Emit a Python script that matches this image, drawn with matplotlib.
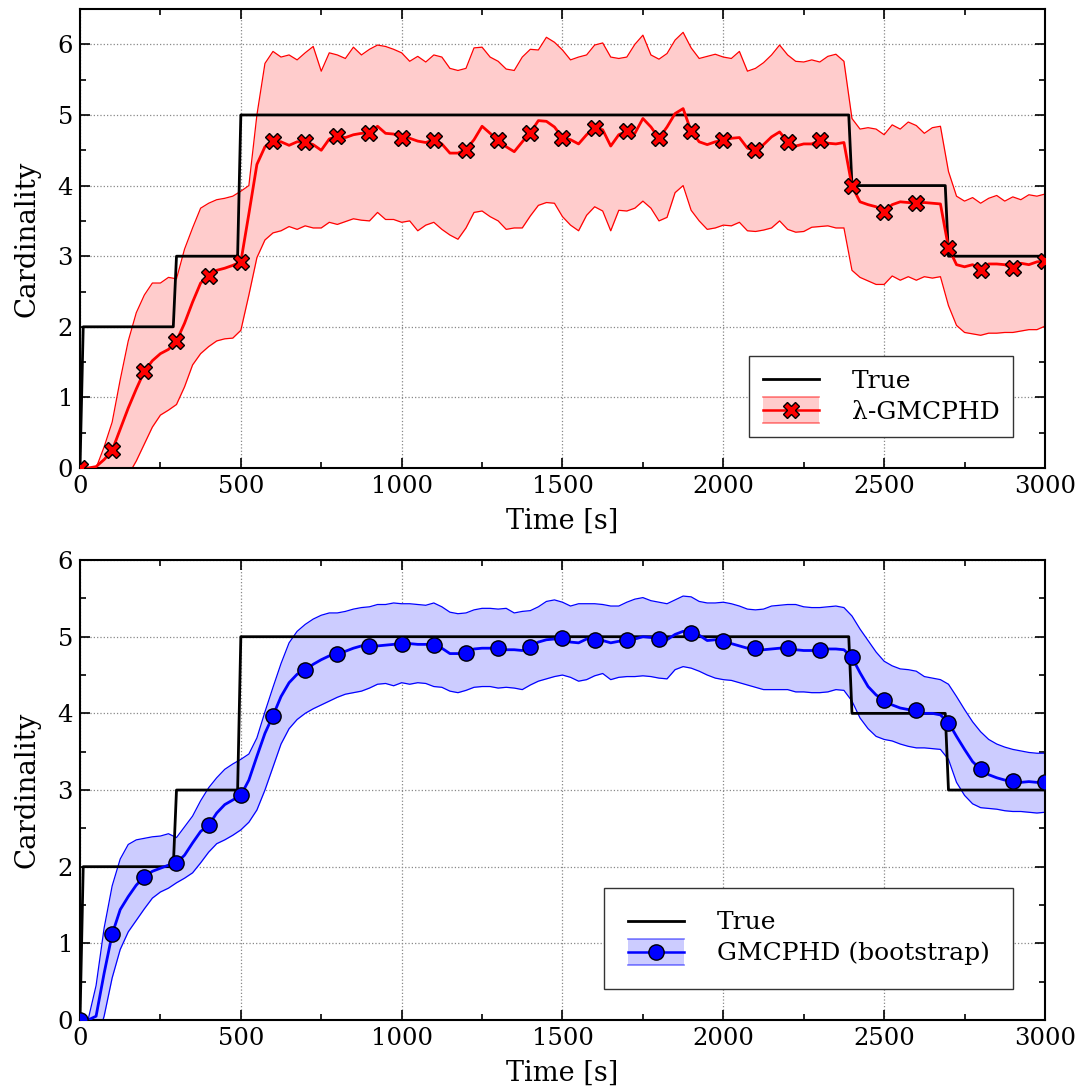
import numpy as np
import matplotlib
matplotlib.use("Agg")
import matplotlib.pyplot as plt
from matplotlib.lines import Line2D
from matplotlib.patches import Rectangle
from matplotlib.legend_handler import HandlerBase
from matplotlib.ticker import MultipleLocator

plt.rcParams['font.family'] = ['DejaVu Serif']

# time grid of the estimates (25 s), markers every 100 s
t_est = np.arange(0, 3001, 25)

# true number of targets
t_true = [0, 10, 290, 300, 490, 500, 2390, 2400, 2690, 2700, 3000]
n_true = [0, 2, 2, 3, 3, 5, 5, 4, 4, 3, 3]

# lambda-GMCPHD: mean and band
lam_mean = [
    0.00, 0.00, 0.02, 0.12, 0.25, 0.55, 0.85, 1.12,
    1.37, 1.52, 1.62, 1.68, 1.80, 2.05, 2.35, 2.62,
    2.72, 2.80, 2.83, 2.87, 2.92, 3.60, 4.30, 4.55,
    4.63, 4.62, 4.57, 4.62, 4.62, 4.58, 4.50, 4.66,
    4.70, 4.68, 4.72, 4.74, 4.75, 4.84, 4.74, 4.73,
    4.68, 4.67, 4.63, 4.61, 4.65, 4.59, 4.46, 4.46,
    4.51, 4.65, 4.84, 4.74, 4.64, 4.55, 4.48, 4.62,
    4.75, 4.92, 4.91, 4.83, 4.68, 4.65, 4.59, 4.72,
    4.82, 4.79, 4.56, 4.72, 4.77, 4.74, 4.95, 4.83,
    4.67, 4.83, 5.02, 5.09, 4.77, 4.62, 4.58, 4.62,
    4.64, 4.67, 4.68, 4.53, 4.50, 4.58, 4.69, 4.76,
    4.62, 4.56, 4.59, 4.59, 4.64, 4.60, 4.59, 4.61,
    3.99, 3.77, 3.73, 3.70, 3.63, 3.73, 3.77, 3.76,
    3.75, 3.76, 3.75, 3.74, 3.12, 2.88, 2.85, 2.88,
    2.81, 2.89, 2.89, 2.88, 2.83, 2.90, 2.88, 2.92,
    2.93]
lam_upper = [
    0.00, 0.00, 0.00, 0.30, 0.65, 1.25, 1.80, 2.20,
    2.45, 2.62, 2.62, 2.70, 2.68, 3.10, 3.40, 3.68,
    3.75, 3.80, 3.82, 3.85, 3.92, 4.00, 5.00, 5.73,
    5.90, 5.82, 5.85, 5.78, 5.88, 5.97, 5.62, 5.88,
    5.85, 5.80, 5.96, 5.85, 5.93, 5.99, 5.97, 5.93,
    5.88, 5.76, 5.83, 5.75, 5.85, 5.82, 5.66, 5.63,
    5.66, 5.95, 5.96, 5.82, 5.76, 5.65, 5.63, 5.82,
    5.93, 5.92, 6.10, 6.03, 5.92, 5.78, 5.82, 5.85,
    5.99, 6.02, 5.82, 5.80, 5.82, 6.00, 6.13, 5.85,
    5.79, 5.87, 6.06, 6.17, 5.95, 5.80, 5.83, 5.86,
    5.82, 5.80, 5.90, 5.62, 5.66, 5.74, 5.85, 5.99,
    5.85, 5.76, 5.75, 5.78, 5.75, 5.83, 5.86, 5.76,
    4.95, 4.80, 4.82, 4.80, 4.72, 4.86, 4.80, 4.90,
    4.85, 4.74, 4.82, 4.84, 4.20, 3.85, 3.78, 3.83,
    3.75, 3.82, 3.86, 3.78, 3.84, 3.80, 3.87, 3.85,
    3.88]
lam_lower = [
    0.00, 0.00, -0.20, -0.40, -0.40, -0.30, -0.10, 0.10,
    0.34, 0.58, 0.75, 0.82, 0.90, 1.15, 1.46, 1.62,
    1.72, 1.80, 1.83, 1.84, 1.95, 2.45, 2.98, 3.23,
    3.33, 3.36, 3.42, 3.38, 3.43, 3.40, 3.40, 3.48,
    3.45, 3.49, 3.53, 3.51, 3.50, 3.62, 3.52, 3.52,
    3.48, 3.50, 3.36, 3.44, 3.48, 3.38, 3.30, 3.24,
    3.40, 3.62, 3.64, 3.56, 3.50, 3.38, 3.40, 3.40,
    3.57, 3.72, 3.76, 3.75, 3.56, 3.44, 3.36, 3.58,
    3.70, 3.64, 3.36, 3.65, 3.64, 3.68, 3.78, 3.68,
    3.50, 3.55, 3.90, 4.00, 3.65, 3.50, 3.38, 3.40,
    3.44, 3.43, 3.48, 3.36, 3.35, 3.37, 3.40, 3.50,
    3.38, 3.34, 3.35, 3.41, 3.42, 3.43, 3.40, 3.40,
    2.80, 2.70, 2.65, 2.60, 2.60, 2.72, 2.66, 2.71,
    2.66, 2.71, 2.69, 2.71, 2.30, 2.02, 1.92, 1.90,
    1.88, 1.91, 1.91, 1.92, 1.92, 1.94, 1.96, 1.96,
    2.01]

# bootstrap GMCPHD: mean and band
bs_mean = [
    0.00, 0.00, 0.05, 0.61, 1.12, 1.44, 1.61, 1.76,
    1.87, 1.94, 1.98, 2.02, 2.05, 2.15, 2.31, 2.46,
    2.54, 2.70, 2.81, 2.87, 2.93, 3.13, 3.44, 3.74,
    3.97, 4.22, 4.40, 4.51, 4.56, 4.64, 4.70, 4.75,
    4.78, 4.81, 4.85, 4.88, 4.88, 4.88, 4.89, 4.90,
    4.91, 4.91, 4.90, 4.90, 4.89, 4.85, 4.78, 4.78,
    4.79, 4.84, 4.85, 4.85, 4.85, 4.83, 4.83, 4.82,
    4.87, 4.93, 4.96, 4.97, 4.98, 4.93, 4.92, 4.97,
    4.96, 4.95, 4.92, 4.94, 4.96, 4.97, 5.00, 4.99,
    4.97, 4.96, 5.03, 5.07, 5.05, 5.02, 4.95, 4.96,
    4.94, 4.91, 4.88, 4.85, 4.85, 4.83, 4.84, 4.85,
    4.85, 4.83, 4.82, 4.82, 4.83, 4.84, 4.84, 4.83,
    4.73, 4.53, 4.35, 4.24, 4.17, 4.11, 4.07, 4.05,
    4.04, 4.00, 4.00, 3.98, 3.88, 3.70, 3.53, 3.37,
    3.27, 3.20, 3.16, 3.13, 3.12, 3.10, 3.11, 3.10,
    3.11]
bs_upper = [
    0.00, 0.00, 0.45, 1.20, 1.75, 2.10, 2.29, 2.35,
    2.37, 2.39, 2.40, 2.43, 2.38, 2.52, 2.66, 2.86,
    3.03, 3.16, 3.27, 3.34, 3.40, 3.47, 3.68, 4.02,
    4.34, 4.65, 4.92, 5.07, 5.16, 5.23, 5.28, 5.31,
    5.31, 5.33, 5.36, 5.38, 5.39, 5.42, 5.42, 5.44,
    5.43, 5.43, 5.42, 5.41, 5.44, 5.39, 5.32, 5.30,
    5.31, 5.35, 5.37, 5.37, 5.36, 5.37, 5.31, 5.33,
    5.34, 5.39, 5.46, 5.48, 5.45, 5.40, 5.43, 5.43,
    5.43, 5.42, 5.40, 5.40, 5.45, 5.49, 5.51, 5.47,
    5.45, 5.43, 5.48, 5.53, 5.52, 5.46, 5.44, 5.44,
    5.45, 5.43, 5.40, 5.36, 5.35, 5.36, 5.40, 5.41,
    5.42, 5.42, 5.39, 5.38, 5.38, 5.39, 5.40, 5.38,
    5.27, 5.10, 4.95, 4.80, 4.68, 4.62, 4.58, 4.57,
    4.55, 4.48, 4.46, 4.44, 4.38, 4.22, 4.05, 3.89,
    3.76, 3.66, 3.60, 3.56, 3.53, 3.51, 3.49, 3.48,
    3.48]
bs_lower = [
    0.00, -0.30, -0.30, 0.05, 0.55, 0.92, 1.15, 1.30,
    1.45, 1.59, 1.67, 1.72, 1.79, 1.85, 1.92, 2.05,
    2.19, 2.30, 2.35, 2.41, 2.48, 2.58, 2.74, 3.00,
    3.30, 3.60, 3.80, 3.92, 4.00, 4.06, 4.11, 4.16,
    4.21, 4.25, 4.27, 4.29, 4.33, 4.38, 4.39, 4.36,
    4.40, 4.38, 4.40, 4.39, 4.35, 4.34, 4.29, 4.27,
    4.30, 4.34, 4.35, 4.35, 4.33, 4.34, 4.33, 4.31,
    4.37, 4.42, 4.45, 4.48, 4.50, 4.47, 4.42, 4.44,
    4.49, 4.52, 4.44, 4.47, 4.48, 4.48, 4.49, 4.48,
    4.46, 4.45, 4.57, 4.61, 4.59, 4.55, 4.50, 4.46,
    4.44, 4.43, 4.40, 4.37, 4.34, 4.31, 4.31, 4.31,
    4.31, 4.28, 4.28, 4.27, 4.27, 4.28, 4.31, 4.30,
    4.16, 3.94, 3.80, 3.70, 3.66, 3.64, 3.60, 3.57,
    3.55, 3.55, 3.54, 3.53, 3.40, 3.10, 2.93, 2.82,
    2.77, 2.76, 2.75, 2.73, 2.72, 2.72, 2.71, 2.70,
    2.71]


class BandKey:
    def __init__(self, color, fill, marker, ms):
        self.color = color
        self.fill = fill
        self.marker = marker
        self.ms = ms


class BandHandler(HandlerBase):
    # shaded band with edge lines and the mean line with a marker
    def create_artists(self, legend, h, xd, yd, width, height, fontsize, trans):
        yc = height / 2 - yd
        half = 0.52 * fontsize
        x0, x1 = -xd, -xd + width
        rect = Rectangle((x0, yc - half), width, 2 * half, facecolor=h.fill,
                         edgecolor='none', transform=trans)
        top = Line2D([x0, x1], [yc + half] * 2, color=h.color, lw=1.2,
                     alpha=0.5, transform=trans)
        bot = Line2D([x0, x1], [yc - half] * 2, color=h.color, lw=1.2,
                     alpha=0.5, transform=trans)
        mid = Line2D([x0, x1], [yc, yc], color=h.color, lw=1.8, transform=trans)
        mk = Line2D([(x0 + x1) / 2], [yc], marker=h.marker, ms=h.ms,
                    mfc=h.color, mec='black', mew=1.0, ls='none', transform=trans)
        return [rect, top, bot, mid, mk]


def draw_panel(ax, mean, upper, lower, color, fill, marker, ms, label, ytop,
               legpad):
    ax.fill_between(t_est, lower, upper, color=fill, lw=0, zorder=1)
    ax.plot(t_est, upper, color=color, lw=0.9, zorder=2)
    ax.plot(t_est, lower, color=color, lw=0.9, zorder=2)
    ax.plot(t_true, n_true, color='black', lw=2.0, zorder=3)
    ax.plot(t_est, mean, color=color, lw=2.0, marker=marker, ms=ms,
            markevery=4, mfc=color, mec='black', mew=1.0, zorder=4)

    ax.set_xlim(0, 3000)
    ax.set_ylim(0, ytop)
    ax.set_yticks(range(0, 7))
    ax.xaxis.set_major_locator(MultipleLocator(500))
    ax.xaxis.set_minor_locator(MultipleLocator(250))
    ax.yaxis.set_minor_locator(MultipleLocator(0.5))
    ax.tick_params(which='both', direction='in', top=True, right=True,
                   labelsize=17.5, width=1.2)
    ax.tick_params(which='major', length=7, pad=5)
    ax.tick_params(which='minor', length=4)
    ax.grid(True, which='major', ls=':', color='#888888', lw=0.9)
    ax.set_axisbelow(True)
    for sp in ax.spines.values():
        sp.set_linewidth(1.5)
    ax.set_xlabel('Time [s]', fontsize=19.5, labelpad=7)
    ax.set_ylabel('Cardinality', fontsize=20, labelpad=12)

    true_h = Line2D([], [], color='black', lw=2.0)
    band_h = BandKey(color, fill, marker, ms)
    leg = ax.legend([true_h, band_h], ['True', label],
                    handler_map={BandKey: BandHandler()},
                    loc='lower right', bbox_to_anchor=(0.967, 0.067),
                    fontsize=18, frameon=True, fancybox=False,
                    edgecolor='#333333', framealpha=1.0,
                    handlelength=2.25, handletextpad=1.3, labelspacing=0.3,
                    borderpad=legpad, borderaxespad=0)
    leg.get_frame().set_linewidth(1.0)


fig = plt.figure(figsize=(10.84, 10.90), dpi=100)
ax1 = fig.add_axes([0.0738, 0.5706, 0.8902, 0.4211])
ax2 = fig.add_axes([0.0738, 0.0642, 0.8902, 0.4220])

draw_panel(ax1, lam_mean, lam_upper, lam_lower, 'red', '#ffcccc', 'X', 11,
           'λ-GMCPHD', 6.5, 0.55)
draw_panel(ax2, bs_mean, bs_upper, bs_lower, 'blue', '#ccccff', 'o', 11,
           'GMCPHD (bootstrap)', 6, 0.95)

fig.savefig('out.png', dpi=100)
